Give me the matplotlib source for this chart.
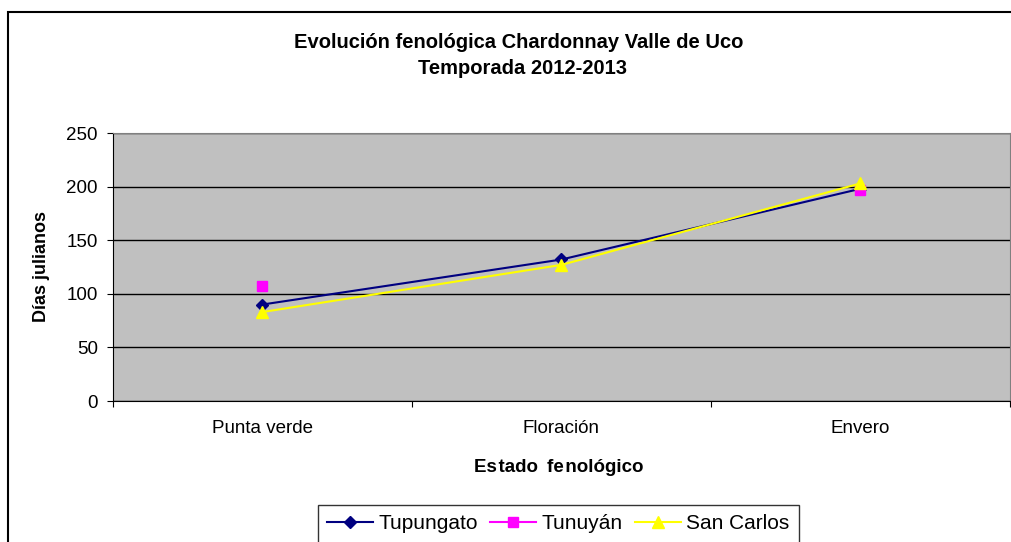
"""
plot.py

Evolucion fenologica Chardonnay Valle de Uco, temporada 2012-2013.
"""
import numpy as np
import matplotlib
matplotlib.use('Agg')
import matplotlib.pyplot as plt
from matplotlib.patches import Rectangle


# === Data ====================================================================

estados = ['Punta verde', 'Floración', 'Envero']
tupungato = [90, 132, 198]
tunuyan = [107, np.nan, 197]
san_carlos = [83, 127, 203]
y_ticks = [0, 50, 100, 150, 200, 250]


# === Plot ====================================================================

plt.rcParams['font.family'] = ['Liberation Sans', 'DejaVu Sans']

fig = plt.figure(figsize=(10.12, 5.42), dpi=100)
fig.patch.set_facecolor('white')

# outer chart frame (cut off on the right and bottom like the original)
fig.patches.append(Rectangle((8 / 1012, -0.1), 1.2, 1 - 12 / 542 + 0.1,
                             transform=fig.transFigure, fill=False,
                             edgecolor='black', linewidth=1.5, zorder=0))

ax = fig.add_axes([113 / 1012, 141 / 542, 897 / 1012, 268 / 542])
ax.set_facecolor('#C0C0C0')

x = np.arange(len(estados))
ax.plot(x, tupungato, color='#000080', marker='D', markersize=6.5,
        linewidth=1.5, label='Tupungato', zorder=3)
ax.plot(x, tunuyan, color='#FF00FF', marker='s', markersize=7,
        linewidth=1.5, label='Tunuyán', zorder=3)
ax.plot(x, san_carlos, color='#FFFF00', marker='^', markersize=8.5,
        linewidth=1.5, label='San Carlos', zorder=4)

ax.set_xlim(-0.5, len(estados) - 0.5)
ax.set_ylim(0, 250)
ax.set_yticks(y_ticks)
ax.yaxis.grid(True, color='black', linewidth=1)
ax.set_axisbelow(True)

# category ticks sit on the boundaries, labels in the middle
ax.set_xticks(np.arange(len(estados) + 1) - 0.5)
ax.set_xticklabels([])
ax.set_xticks(x, minor=True)
ax.set_xticklabels(estados, minor=True)
ax.tick_params(axis='x', which='minor', length=0, pad=14, labelsize=13.5)
ax.tick_params(axis='x', which='major', length=4.3, direction='out')
ax.tick_params(axis='y', length=4.3, direction='out', labelsize=13.5, pad=6.5)

for side in ['top', 'right']:
    ax.spines[side].set_color('#808080')
for side in ['left', 'bottom']:
    ax.spines[side].set_color('black')

ax.set_ylabel('Días julianos', fontsize=13, fontweight='bold', labelpad=12)
ax.set_xlabel('Es tado\u2009 fe nológico'.replace(' ', '\u200a', 1).replace('fe ', 'fe\u200a'),
              fontsize=13.5, fontweight='bold')
ax.xaxis.set_label_coords(0.497, (401 - 459) / 268)

fig.text(519 / 1012, 1 - 42 / 542, 'Evolución fenológica Chardonnay Valle de Uco',
         ha='center', va='center', fontsize=14.5, fontweight='bold')
fig.text(522 / 1012, 1 - 68 / 542, 'Temporada 2012-2013',
         ha='center', va='center', fontsize=14.5, fontweight='bold')

leg = fig.legend(loc='upper left', bbox_to_anchor=(318 / 1012, 1 - 505 / 542),
                 ncol=3, fontsize=15, frameon=True, fancybox=False,
                 handlelength=2.2, handletextpad=0.25, columnspacing=0.6,
                 borderpad=0.45, borderaxespad=0)
leg.get_frame().set_edgecolor('black')
leg.get_frame().set_linewidth(1)

plt.savefig('out.png', dpi=100)
plt.close()
